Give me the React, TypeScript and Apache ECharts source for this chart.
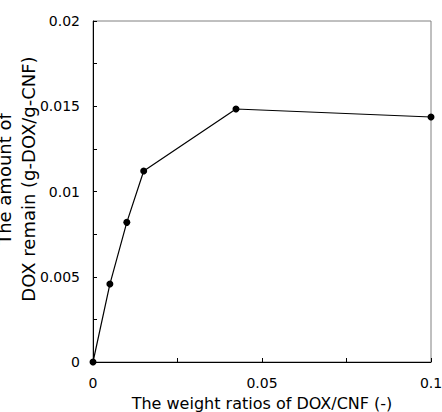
import React, { useEffect, useRef } from "react";
import * as echarts from "echarts";

const xValues = [0, 0.005, 0.01, 0.015, 0.0423, 0.1];
const yValues = [0, 0.00457, 0.00819, 0.0112, 0.01484, 0.01437];
const xAxisTitle = "The weight ratios of DOX/CNF (-)";
const yAxisTitle = "The amount of\nDOX remain (g-DOX/g-CNF)";

const FONT = "DejaVu Sans";

export default function App() {
  const ref = useRef<HTMLDivElement>(null);
  useEffect(() => {
    if (!ref.current) return;
    const chart = echarts.init(ref.current, undefined, { renderer: "svg" });
    chart.setOption({
      animation: false,
      backgroundColor: "#ffffff",
      grid: {
        left: 93,
        right: 11,
        top: 21,
        bottom: 50,
        outerBoundsMode: "none",
        containLabel: false,
        show: true,
        borderColor: "#808080",
        borderWidth: 1,
        backgroundColor: "transparent",
      },
      xAxis: {
        type: "value",
        min: 0,
        max: 0.1,
        interval: 0.05,
        name: xAxisTitle,
        nameLocation: "middle",
        nameGap: 33,
        nameTextStyle: { fontFamily: FONT, fontSize: 16, color: "#000" },
        axisLine: { show: true, lineStyle: { color: "#000", width: 1 } },
        axisTick: { show: true, inside: true, length: 4, lineStyle: { color: "#000" } },
        minorTick: { show: true, splitNumber: 2, length: 4, lineStyle: { color: "#000" } },
        axisLabel: { fontFamily: FONT, fontSize: 14, color: "#000", margin: 14 },
        splitLine: { show: false },
      },
      yAxis: {
        type: "value",
        min: 0,
        max: 0.02,
        interval: 0.005,
        axisLine: { show: true, lineStyle: { color: "#000", width: 1 } },
        axisTick: { show: true, inside: true, length: 4, lineStyle: { color: "#000" } },
        minorTick: { show: true, splitNumber: 2, length: 4, lineStyle: { color: "#000" } },
        axisLabel: { fontFamily: FONT, fontSize: 14, color: "#000", margin: 13 },
        splitLine: { show: false },
      },
      graphic: [
        {
          type: "text",
          x: 16.6,
          y: 179,
          rotation: Math.PI / 2,
          style: {
            text: yAxisTitle,
            fontFamily: FONT,
            fontSize: 18,
            lineHeight: 24,
            fill: "#000",
            textAlign: "center",
            textVerticalAlign: "middle",
          },
        },
      ],
      series: [
        {
          type: "line",
          data: xValues.map((x, i) => [x, yValues[i]]),
          symbol: "circle",
          symbolSize: 7,
          clip: false,
          itemStyle: { color: "#000" },
          lineStyle: { color: "#000", width: 1.2 },
        },
      ],
    });
    return () => chart.dispose();
  }, []);
  return <div ref={ref} style={{ width: 442, height: 412, position: "absolute", left: 0, top: 0 }} />;
}
